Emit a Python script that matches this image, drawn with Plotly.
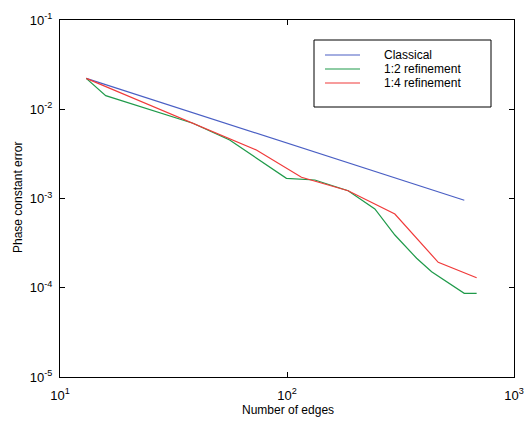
import plotly.graph_objects as go

# ---- data ----
series_names = ["Classical", "1:2 refinement", "1:4 refinement"]

classical_x = [13.05, 100, 604]
classical_y = [0.0222, 0.0042, 0.000955]

ref2_x = [13.05, 15.9, 38.5, 55.9, 99.4, 132.6, 185.9, 243.8, 298.7, 372.4, 433.6, 603.6, 684.6]
ref2_y = [0.0222, 0.01419, 0.00696, 0.00452, 0.001683, 0.001612, 0.001223, 0.000763,
          0.000390, 0.000214, 0.0001513, 0.0000867, 0.0000867]

ref4_x = [13.05, 73.3, 115.8, 185.9, 298.7, 463.7, 684.6]
ref4_y = [0.0222, 0.003494, 0.001728, 0.001223, 0.000670, 0.0001927, 0.0001296]

x_tickvals = [10, 100, 1000]
x_ticktext = ["10<sup>1</sup>", "10<sup>2</sup>", "10<sup>3</sup>"]
y_tickvals = [1e-5, 1e-4, 1e-3, 1e-2, 1e-1]
y_ticktext = ["10<sup>-5</sup>", "10<sup>-4</sup>", "10<sup>-3</sup>", "10<sup>-2</sup>", "10<sup>-1</sup>"]

colors = ["#4a5fc4", "#1f9a4a", "#f03a3a"]

FONT = "Liberation Sans, Arial, sans-serif"

fig = go.Figure()
for name, xs, ys, c in zip(series_names, [classical_x, ref2_x, ref4_x],
                           [classical_y, ref2_y, ref4_y], colors):
    fig.add_trace(go.Scatter(x=xs, y=ys, mode="lines", name=name,
                             line=dict(color=c, width=1.2), showlegend=False))

W, H = 527, 423
ml, mr, mt, mb = 60, 13, 20, 46
pw, ph = W - ml - mr, H - mt - mb

def px2paper_x(px):
    return (px - ml) / pw

def py2paper_y(py):
    return 1 - (py - mt) / ph

shapes = []
# legend box
shapes.append(dict(type="rect", xref="paper", yref="paper",
                   x0=px2paper_x(314), x1=px2paper_x(491),
                   y0=py2paper_y(107), y1=py2paper_y(40),
                   line=dict(color="black", width=1), fillcolor="white", layer="above"))
annotations = []
for i, (name, c) in enumerate(zip(series_names, colors)):
    yy = 55 + i * 14
    shapes.append(dict(type="line", xref="paper", yref="paper",
                       x0=px2paper_x(325), x1=px2paper_x(360),
                       y0=py2paper_y(yy), y1=py2paper_y(yy),
                       line=dict(color=c, width=1.2), layer="above"))
    annotations.append(dict(text=name, xref="paper", yref="paper",
                            x=px2paper_x(382), y=py2paper_y(yy),
                            xanchor="left", yanchor="middle", showarrow=False,
                            font=dict(family=FONT, size=12, color="black")))

# axis titles
annotations.append(dict(text="Number of edges", xref="paper", yref="paper",
                        x=px2paper_x(288), y=py2paper_y(410),
                        xanchor="center", yanchor="middle", showarrow=False,
                        font=dict(family=FONT, size=12, color="black")))
annotations.append(dict(text="Phase constant error", xref="paper", yref="paper",
                        x=px2paper_x(18), y=py2paper_y(198),
                        xanchor="center", yanchor="middle", showarrow=False,
                        textangle=-90,
                        font=dict(family=FONT, size=12, color="black")))

axis_common = dict(showgrid=False, zeroline=False, showline=True, mirror="ticks",
                   linecolor="black", linewidth=1.2, ticks="inside", ticklen=5,
                   tickcolor="black",
                   tickfont=dict(family=FONT, size=13, color="black"))

fig.update_layout(
    width=W, height=H,
    margin=dict(l=ml, r=mr, t=mt, b=mb, autoexpand=False),
    paper_bgcolor="white", plot_bgcolor="white",
    font=dict(family=FONT, size=12, color="black"),
    xaxis=dict(type="log", range=[1, 3], tickmode="array", ticklabelstandoff=6,
               tickvals=x_tickvals, ticktext=x_ticktext, **axis_common),
    yaxis=dict(type="log", range=[-5, -1], tickmode="array", ticklabelstandoff=4,
               tickvals=y_tickvals, ticktext=y_ticktext, **axis_common),
    shapes=shapes, annotations=annotations,
    showlegend=False,
)

fig.write_html("out.html", config={"displayModeBar": False},
               post_script="document.body.style.margin='0';document.body.style.padding='0';")
